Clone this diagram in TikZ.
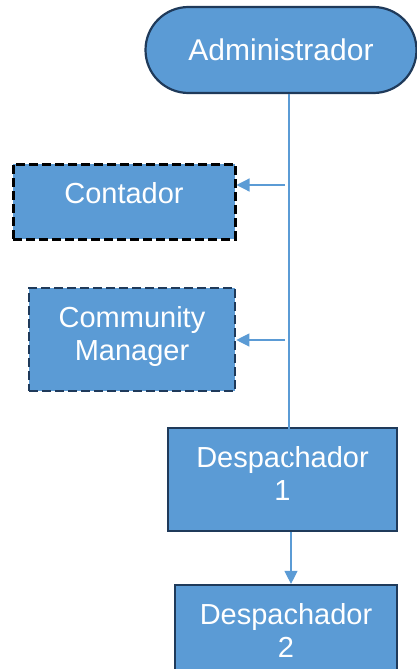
\documentclass[tikz,border=0pt]{standalone}
\usepackage{fontspec}
\setmainfont{Liberation Sans}
\usetikzlibrary{arrows.meta}
\definecolor{boxblue}{HTML}{5B9BD5}
\definecolor{boxedge}{HTML}{1F3A5A}

\begin{document}
\begin{tikzpicture}[x=1pt,y=-1pt,
  box/.style={draw=boxedge, line width=2.2pt, fill=boxblue, text=white,
    align=center, inner sep=0pt, font=\fontsize{29}{33}\selectfont},
  dashbox/.style={box, line width=2.6pt, dash pattern=on 9pt off 4pt},
  link/.style={draw=boxblue, line width=1.2pt},
  tip/.style={-{Triangle[length=13pt,width=13pt]}}]
\useasboundingbox (0,0) rectangle (417,669);
\node[box, rounded corners=43pt, minimum width=271pt, minimum height=86pt,
  font=\fontsize{30}{34}\selectfont] (admin) at (281,50) {Administrador};
\node[dashbox, draw=black, line width=3pt, minimum width=222pt, minimum height=75pt,
  text depth=17pt] (contador) at (124,201.5) {Contador};
\node[dashbox, minimum width=206pt, minimum height=103pt, text depth=12pt]
  (community) at (132,339.5) {Community\\Manager};
\node[box, minimum width=229pt, minimum height=103pt, text depth=13pt]
  (desp1) at (282.5,479.5) {Despachador\\1};
\node[box, minimum width=222pt, minimum height=103pt, text depth=13pt]
  (desp2) at (286,636.5) {Despachador\\2};
\coordinate (trunk) at (289,466);
\coordinate (c1) at (285,185);
\coordinate (c2) at (285,340);
\coordinate (d) at (291,0);
\draw[link] (trunk |- admin.south) -- (trunk);
\draw[link,tip] (c1) -- (contador.east |- c1);
\draw[link,tip] (c2) -- (community.east |- c2);
\draw[link,tip] (desp1.south -| d) -- (desp2.north -| d);
\end{tikzpicture}
\end{document}
